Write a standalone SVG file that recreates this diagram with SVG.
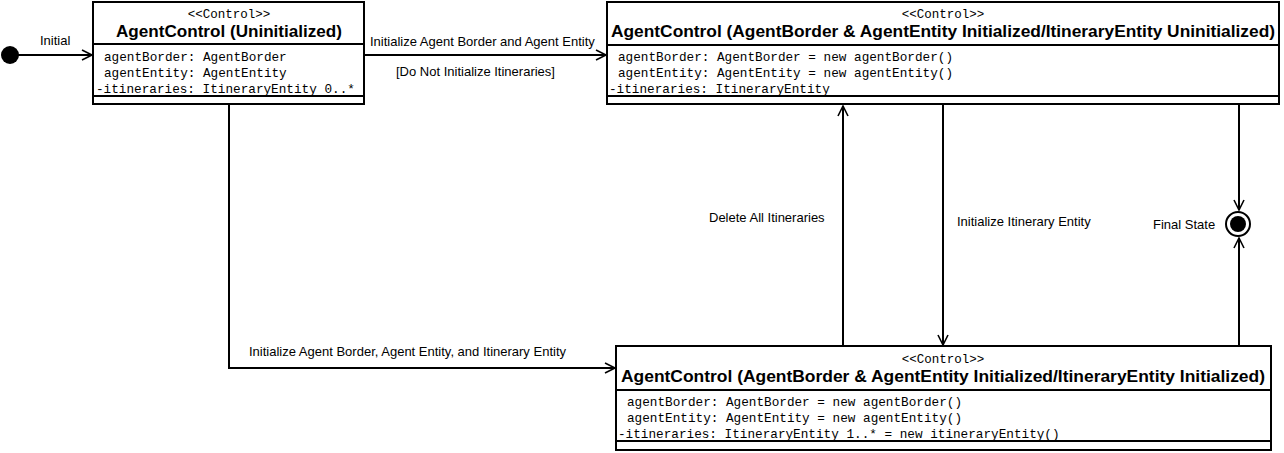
<svg xmlns="http://www.w3.org/2000/svg" width="1284" height="453" viewBox="0 0 1284 453">
<style>
.box{fill:#fff;stroke:#000;stroke-width:2}
.div{stroke:#000;stroke-width:2}
.st{font-family:"Liberation Mono",monospace;font-size:12.5px;text-anchor:middle}
.ti{font-family:"Liberation Sans",Arial,sans-serif;font-size:16px;font-weight:bold;text-anchor:middle}
.at{font-family:"Liberation Mono",monospace;font-size:12.7px}
.lb{font-family:"Liberation Sans",Arial,sans-serif;font-size:13px}
.cn{fill:none;stroke:#000;stroke-width:2}
</style>
<defs>
<marker id="arr" markerWidth="14" markerHeight="14" refX="11" refY="6" orient="auto" markerUnits="userSpaceOnUse" viewBox="0 0 14 12">
<path d="M1,1 L11,6 L1,11" fill="none" stroke="#000" stroke-width="1.6"/>
</marker>
</defs>
<rect width="1284" height="453" fill="#fff"/>
<g id="connectors">
<line class="cn" x1="18" y1="55" x2="92" y2="55" marker-end="url(#arr)"/>
<line class="cn" x1="364" y1="55" x2="606" y2="55" marker-end="url(#arr)"/>
<polyline class="cn" points="229,105 229,368 615,368" marker-end="url(#arr)"/>
<line class="cn" x1="843" y1="346" x2="843" y2="106" marker-end="url(#arr)"/>
<line class="cn" x1="943" y1="105" x2="943" y2="345" marker-end="url(#arr)"/>
<line class="cn" x1="1239" y1="105" x2="1239" y2="210" marker-end="url(#arr)"/>
<line class="cn" x1="1239" y1="346" x2="1239" y2="238" marker-end="url(#arr)"/>
<text class="lb" x="40" y="45">Initial</text>
<text class="lb" x="370" y="46">Initialize Agent Border and Agent Entity</text>
<text class="lb" x="396" y="76">[Do Not Initialize Itineraries]</text>
<text class="lb" x="249" y="356">Initialize Agent Border, Agent Entity, and Itinerary Entity</text>
<text class="lb" x="709" y="222">Delete All Itineraries</text>
<text class="lb" x="957" y="226">Initialize Itinerary Entity</text>
<text class="lb" x="1153" y="229">Final State</text>
</g>
<g id="initial">
<circle cx="10" cy="55" r="9" fill="#000"/>
</g>
<g id="final">
<circle cx="1238" cy="224" r="12" fill="#fff" stroke="#000" stroke-width="2"/>
<circle cx="1238" cy="224" r="8" fill="#000"/>
</g>
<g id="uninitialized">
<rect class="box" x="93" y="2" width="271" height="102"/>
<line class="div" x1="93" y1="44" x2="364" y2="44"/>
<line class="div" x1="93" y1="96" x2="364" y2="96"/>
<text class="st" x="229" y="18">&lt;&lt;Control&gt;&gt;</text>
<text class="ti" x="229" y="37" textLength="226" lengthAdjust="spacingAndGlyphs">AgentControl (Uninitialized)</text>
<text class="at" x="104" y="61">agentBorder: AgentBorder</text>
<text class="at" x="104" y="77">agentEntity: AgentEntity</text>
<text class="at" x="96" y="93">-itineraries: ItineraryEntity 0..*</text>
</g>
<g id="itinUninit">
<rect class="box" x="607" y="2" width="672" height="102"/>
<line class="div" x1="607" y1="45" x2="1279" y2="45"/>
<line class="div" x1="607" y1="96" x2="1279" y2="96"/>
<text class="st" x="943" y="18">&lt;&lt;Control&gt;&gt;</text>
<text class="ti" x="943" y="37" textLength="664" lengthAdjust="spacingAndGlyphs">AgentControl (AgentBorder &amp; AgentEntity Initialized/ItineraryEntity Uninitialized)</text>
<text class="at" x="618" y="61">agentBorder: AgentBorder = new agentBorder()</text>
<text class="at" x="618" y="77">agentEntity: AgentEntity = new agentEntity()</text>
<text class="at" x="609" y="93">-itineraries: ItineraryEntity</text>
</g>
<g id="itinInit">
<rect class="box" x="616" y="346" width="655" height="104"/>
<line class="div" x1="616" y1="390" x2="1271" y2="390"/>
<line class="div" x1="616" y1="441" x2="1271" y2="441"/>
<text class="st" x="943" y="363">&lt;&lt;Control&gt;&gt;</text>
<text class="ti" x="943" y="382" textLength="644" lengthAdjust="spacingAndGlyphs">AgentControl (AgentBorder &amp; AgentEntity Initialized/ItineraryEntity Initialized)</text>
<text class="at" x="627" y="406">agentBorder: AgentBorder = new agentBorder()</text>
<text class="at" x="627" y="422">agentEntity: AgentEntity = new agentEntity()</text>
<text class="at" x="618" y="438">-itineraries: ItineraryEntity 1..* = new itineraryEntity()</text>
</g>
</svg>
